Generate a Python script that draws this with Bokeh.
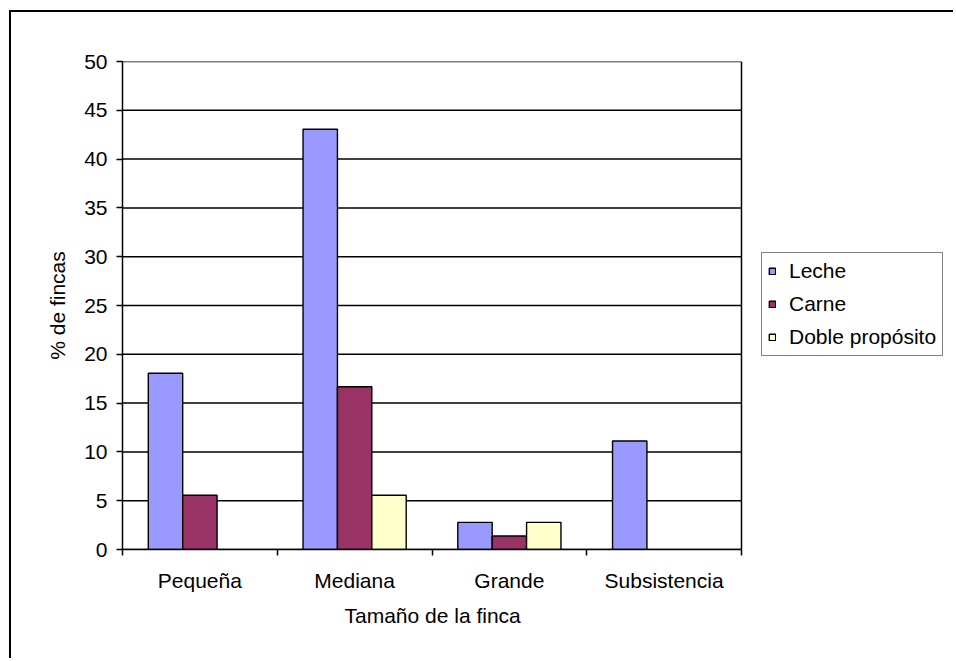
import numpy as np
from bokeh.plotting import figure
from bokeh.models import (ColumnDataSource, FixedTicker, Legend, LegendItem, Range1d,
                          Span, Title)
from bokeh.transform import dodge
from bokeh.embed import file_html
from bokeh.resources import INLINE

categories = ["Pequeña", "Mediana", "Grande", "Subsistencia"]
series_names = ["Leche", "Carne", "Doble propósito"]
leche = [18.06, 43.06, 2.78, 11.11]
carne = [5.56, 16.67, 1.39, 0.0]
doble = [0.0, 5.56, 2.78, 0.0]
colors = ["#9999FF", "#993366", "#FFFFCC"]
y_ticks = list(range(0, 55, 5))

FONT = "Liberation Sans"
FS = "21px"


def nz(v):
    a = np.array(v, dtype=float)
    return np.where(a > 0, a, np.nan)


n = len(categories)
pos = np.arange(n) + 0.5
src = ColumnDataSource(dict(x=pos, leche=nz(leche), carne=nz(carne), doble=nz(doble)))

# plot area spans categories 0..n; the frame is extended to the right to host the legend
PLOT_W, FRAME_W = 619, 828
p = figure(width=944, height=648, x_range=Range1d(0, n * FRAME_W / PLOT_W),
           y_range=Range1d(0, 50), output_backend="svg", toolbar_location=None,
           min_border_left=111, min_border_top=49, min_border_right=5,
           min_border_bottom=111)
p.margin = (10, 0, 0, 9)
p.styles = {"border-top": "2px solid black", "border-left": "2px solid black"}
p.outline_line_color = None
p.xgrid.grid_line_color = None
p.ygrid.grid_line_color = None

# horizontal gridlines limited to the plot area
gsrc = ColumnDataSource(dict(y=y_ticks, x0=[0] * len(y_ticks), x1=[n] * len(y_ticks)))
p.segment(x0="x0", x1="x1", y0="y", y1="y", source=gsrc, line_color="black", line_width=1.5)
p.add_layout(Span(location=n, dimension="height", line_color="black", line_width=1.5))

bw = 1 / 4.5
renderers = []
for i, (col, name) in enumerate(zip(["leche", "carne", "doble"], series_names)):
    r = p.vbar(x=dodge("x", (i - 1) * bw, range=p.x_range), top=col, width=bw,
               source=src, fill_color=colors[i], line_color="black", line_width=1.4)
    renderers.append((name, r))

# y axis
ya = p.yaxis[0]
ya.ticker = FixedTicker(ticks=y_ticks)
ya.axis_line_color = "black"
ya.axis_line_width = 1.5
ya.major_tick_line_width = 1.5
ya.major_tick_out = 6
ya.major_tick_in = 0
ya.minor_tick_line_color = None
ya.major_label_standoff = 9
ya.major_label_text_font = FONT
ya.major_label_text_font_size = FS
ya.major_label_text_color = "black"
ya.axis_label = "% de fincas"
ya.axis_label_text_font = FONT
ya.axis_label_text_font_size = FS
ya.axis_label_text_font_style = "normal"
ya.axis_label_text_color = "black"
ya.axis_label_standoff = 12

# x axis
xa = p.xaxis[0]
xa.bounds = (0, n)
xa.ticker = FixedTicker(ticks=list(pos), minor_ticks=list(range(n + 1)))
xa.major_label_overrides = {float(v): c for v, c in zip(pos, categories)}
xa.axis_line_color = "black"
xa.axis_line_width = 1.5
xa.major_tick_out = 0
xa.major_tick_in = 0
xa.major_tick_line_color = None
xa.minor_tick_out = 6
xa.minor_tick_in = 0
xa.minor_tick_line_color = "black"
xa.minor_tick_line_width = 1.5
xa.major_label_standoff = 13
xa.major_label_text_font = FONT
xa.major_label_text_font_size = FS
xa.major_label_text_color = "black"

# x-axis title, centred under the plot area (not the extended frame)
xt = Title(text="Tamaño de la finca", align="left", offset=222, standoff=14,
           text_font=FONT, text_font_size=FS, text_font_style="normal",
           text_color="black")
p.add_layout(xt, "below")

legend = Legend(items=[LegendItem(label=nm, renderers=[r]) for nm, r in renderers],
                location=(639, 193))
legend.border_line_color = "black"
legend.border_line_width = 1.5
legend.background_fill_color = "white"
legend.background_fill_alpha = 1
legend.label_text_font = FONT
legend.label_text_font_size = FS
legend.label_text_color = "black"
legend.glyph_width = 8
legend.glyph_height = 8
legend.label_standoff = 13
legend.padding = 6
legend.spacing = 9
legend.margin = 0
p.add_layout(legend)

open("out.html", "w").write(file_html(p, INLINE))
